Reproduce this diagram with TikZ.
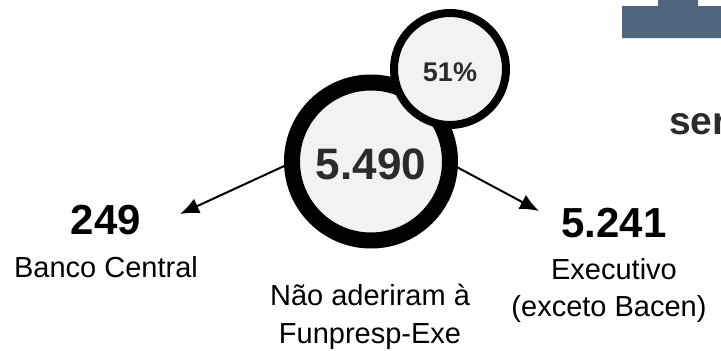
\documentclass[tikz,border=0pt]{standalone}
\usepackage{fontspec}
\setmainfont{Liberation Sans}
\usetikzlibrary{arrows.meta}
\definecolor{ringfill}{HTML}{F2F2F2}
\definecolor{numgray}{HTML}{2B2B2B}
\definecolor{slate}{HTML}{4E657B}
\tikzset{
  bubble/.style={circle, draw=black, fill=ringfill, inner sep=0pt},
  bignum/.style={anchor=base, font=\fontsize{42}{46}\selectfont\bfseries, inner sep=0pt},
  label/.style={anchor=base, font=\fontsize{29}{33}\selectfont, inner sep=0pt},
  conn/.style={line width=2pt, -{Latex[length=19pt,width=16pt]}}
}
\begin{document}
\begin{tikzpicture}[x=1pt,y=-1pt]
\useasboundingbox (0,0) rectangle (721,351);
\clip (0,0) rectangle (721,351);
% top-right shape
\fill[slate] (622,38) -- (622,6) -- (658,6) -- (658,-2) -- (698,-2) -- (698,6) -- (730,6) -- (730,38) -- cycle;
\node[anchor=base west, inner sep=0pt, font=\fontsize{39}{44}\selectfont\bfseries, text=numgray] (ser) at (669,134) {ser};
% bubbles
\node[bubble, line width=16pt, minimum size=158pt] (big) at (371,161.5) {};
\node[bubble, line width=8pt, minimum size=112pt] (small) at (450,69) {};
\node[anchor=base, inner sep=0pt, font=\fontsize{44}{48}\selectfont\bfseries, text=numgray] (bigtxt) at (371,179) {5.490};
\node[anchor=base, inner sep=0pt, font=\fontsize{27}{30}\selectfont\bfseries, text=numgray] (smalltxt) at (450,81) {51\%};
% numbers and labels
\node[bignum] (n249) at (106,234) {249};
\node[label] (bc) at (106,277) {Banco Central};
\node[bignum] (n5241) at (614,237) {5.241};
\node[label] (ex1) at (614,279) {Executivo};
\node[label] (ex2) at (609,316) {(exceto Bacen)};
\node[label] (na1) at (370,305) {Não aderiram à};
\node[label] (na2) at (370,343) {Funpresp-Exe};
% connectors
\coordinate (tipL) at (180,214);
\coordinate (tipR) at (539,211);
\draw[conn] (big.183) -- (tipL);
\draw[conn] (big.356) -- (tipR);
\end{tikzpicture}
\end{document}
